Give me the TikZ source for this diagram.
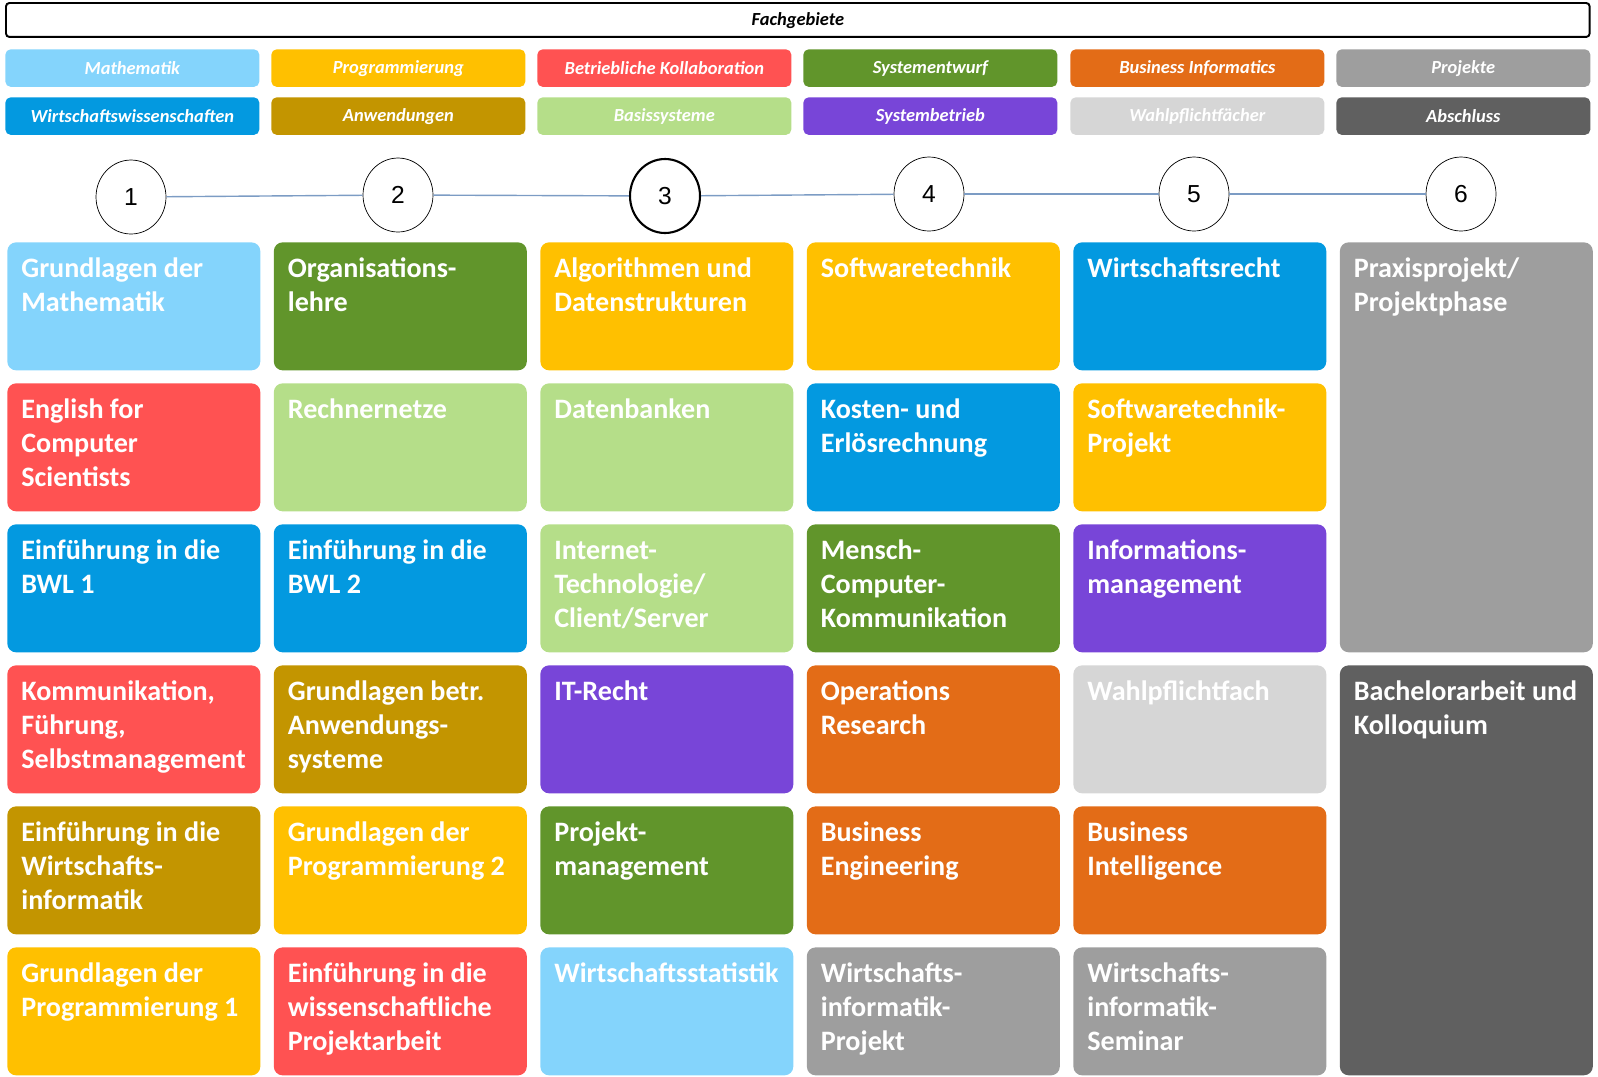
\documentclass[tikz,border=0pt]{standalone}
\usepackage{fontspec}
\setmainfont{Carlito}
\newfontfamily\numfont{Liberation Sans}
\usetikzlibrary{shapes.geometric}

\definecolor{mathe}{HTML}{84D4FC}
\definecolor{wiwi}{HTML}{0399E0}
\definecolor{prog}{HTML}{FFC000}
\definecolor{anw}{HTML}{C39500}
\definecolor{koll}{HTML}{FF5252}
\definecolor{basis}{HTML}{B5DE89}
\definecolor{entwurf}{HTML}{61952B}
\definecolor{betrieb}{HTML}{7845D8}
\definecolor{businf}{HTML}{E36C17}
\definecolor{wahl}{HTML}{D6D6D6}
\definecolor{proj}{HTML}{9E9E9E}
\definecolor{absch}{HTML}{606060}
\definecolor{zeitlinie}{HTML}{7C9CC4}

\begin{document}
\begin{tikzpicture}[x=0.02cm, y=-0.02cm,
  fach/.style={fill=#1, rounded corners=5pt, anchor=north west, inner sep=0pt,
    minimum width=5.06cm, minimum height=2.56cm},
  txt/.style={anchor=base west, text width=4.8cm, align=flush left, text=white, inner sep=0pt,
    font=\fontsize{16}{19.4}\selectfont\bfseries, xshift=0.28cm, yshift=-0.71cm},
  leg/.style={fill=#1, rounded corners=3pt, anchor=north west, inner sep=0pt,
    minimum width=5.08cm, minimum height=0.75cm, text=white,
    font=\fontsize{10.5}{12}\selectfont\bfseries\itshape},
  sem/.style={ellipse, draw, fill=white, inner sep=0pt, minimum width=1.4cm,
    minimum height=1.48cm, font=\numfont\fontsize{14}{14}\selectfont},
  verbind/.style={draw=zeitlinie, line width=0.8pt}]
\useasboundingbox (0,0) rectangle (1598,1076);

% Kopfzeile und Legende
\node[draw, line width=1.1pt, rounded corners=2pt, anchor=north west, minimum width=31.68cm,
  minimum height=0.68cm, text height=0.3cm, text depth=0.06cm,
  font=\fontsize{10.5}{12}\selectfont\bfseries\itshape] (kopf) at (5,2) {Fachgebiete};
\node[leg=mathe] (lmathe) at (5,49) {Mathematik};
\node[leg=prog] (lprog) at (271,49) {Programmierung};
\node[leg=koll] (lkoll) at (537,49) {Betriebliche Kollaboration};
\node[leg=entwurf] (lentwurf) at (803,49) {Systementwurf};
\node[leg=businf] (lbusinf) at (1070,49) {Business Informatics};
\node[leg=proj] (lproj) at (1336,49) {Projekte};
\node[leg=wiwi] (lwiwi) at (5,97) {Wirtschaftswissenschaften};
\node[leg=anw] (lanw) at (271,97) {Anwendungen};
\node[leg=basis] (lbasis) at (537,97) {Basissysteme};
\node[leg=betrieb] (lbetrieb) at (803,97) {Systembetrieb};
\node[leg=wahl] (lwahl) at (1070,97) {Wahlpflichtfächer};
\node[leg=absch] (labsch) at (1336,97) {Abschluss};

% Semester
\node[sem] (s1) at (131,197) {1};
\node[sem] (s2) at (398,195) {2};
\node[sem, line width=1.2pt] (s3) at (665,196) {3};
\node[sem] (s4) at (929,194) {4};
\node[sem] (s5) at (1194,194) {5};
\node[sem] (s6) at (1461,194) {6};
\foreach \a/\b in {1/2, 2/3, 3/4, 4/5, 5/6}
  \draw[verbind] (s\a) -- (s\b);

% 1. Semester
\node[fach=mathe, label={[txt]north west:Grundlagen der\\Mathematik}] (m11) at (7,242) {};
\node[fach=koll, label={[txt]north west:English for\\Computer\\Scientists}] (m12) at (7,383) {};
\node[fach=wiwi, label={[txt]north west:Einführung in die\\BWL 1}] (m13) at (7,524) {};
\node[fach=koll, label={[txt]north west:Kommunikation,\\Führung,\\Selbstmanagement}] (m14) at (7,665) {};
\node[fach=anw, label={[txt]north west:Einführung in die\\Wirtschafts-\\informatik}] (m15) at (7,806) {};
\node[fach=prog, label={[txt]north west:Grundlagen der\\Programmierung 1}] (m16) at (7,947) {};
% 2. Semester
\node[fach=entwurf, label={[txt]north west:Organisations-\\lehre}] (m21) at (273.5,242) {};
\node[fach=basis, label={[txt]north west:Rechnernetze}] (m22) at (273.5,383) {};
\node[fach=wiwi, label={[txt]north west:Einführung in die\\BWL 2}] (m23) at (273.5,524) {};
\node[fach=anw, label={[txt]north west:Grundlagen betr.\\Anwendungs-\\systeme}] (m24) at (273.5,665) {};
\node[fach=prog, label={[txt]north west:Grundlagen der\\Programmierung 2}] (m25) at (273.5,806) {};
\node[fach=koll, label={[txt]north west:Einführung in die\\wissenschaftliche\\Projektarbeit}] (m26) at (273.5,947) {};
% 3. Semester
\node[fach=prog, label={[txt]north west:Algorithmen und\\Datenstrukturen}] (m31) at (540,242) {};
\node[fach=basis, label={[txt]north west:Datenbanken}] (m32) at (540,383) {};
\node[fach=basis, label={[txt]north west:Internet-\\Technologie/\\Client/Server}] (m33) at (540,524) {};
\node[fach=betrieb, label={[txt]north west:IT-Recht}] (m34) at (540,665) {};
\node[fach=entwurf, label={[txt]north west:Projekt-\\management}] (m35) at (540,806) {};
\node[fach=mathe, label={[txt]north west:Wirtschaftsstatistik}] (m36) at (540,947) {};
% 4. Semester
\node[fach=prog, label={[txt]north west:Softwaretechnik}] (m41) at (806.5,242) {};
\node[fach=wiwi, label={[txt]north west:Kosten- und\\Erlösrechnung}] (m42) at (806.5,383) {};
\node[fach=entwurf, label={[txt]north west:Mensch-\\Computer-\\Kommunikation}] (m43) at (806.5,524) {};
\node[fach=businf, label={[txt]north west:Operations\\Research}] (m44) at (806.5,665) {};
\node[fach=businf, label={[txt]north west:Business\\Engineering}] (m45) at (806.5,806) {};
\node[fach=proj, label={[txt]north west:Wirtschafts-\\informatik-\\Projekt}] (m46) at (806.5,947) {};
% 5. Semester
\node[fach=wiwi, label={[txt]north west:Wirtschaftsrecht}] (m51) at (1073,242) {};
\node[fach=prog, label={[txt]north west:Softwaretechnik-\\Projekt}] (m52) at (1073,383) {};
\node[fach=betrieb, label={[txt]north west:Informations-\\management}] (m53) at (1073,524) {};
\node[fach=wahl, label={[txt]north west:Wahlpflichtfach}] (m54) at (1073,665) {};
\node[fach=businf, label={[txt]north west:Business\\Intelligence}] (m55) at (1073,806) {};
\node[fach=proj, label={[txt]north west:Wirtschafts-\\informatik-\\Seminar}] (m56) at (1073,947) {};
% 6. Semester
\node[fach=proj, minimum height=8.2cm, label={[txt]north west:Praxisprojekt/\\Projektphase}] (m61) at (1339.5,242) {};
\node[fach=absch, minimum height=8.2cm, label={[txt]north west:Bachelorarbeit und\\Kolloquium}] (m62) at (1339.5,665) {};
\end{tikzpicture}
\end{document}
